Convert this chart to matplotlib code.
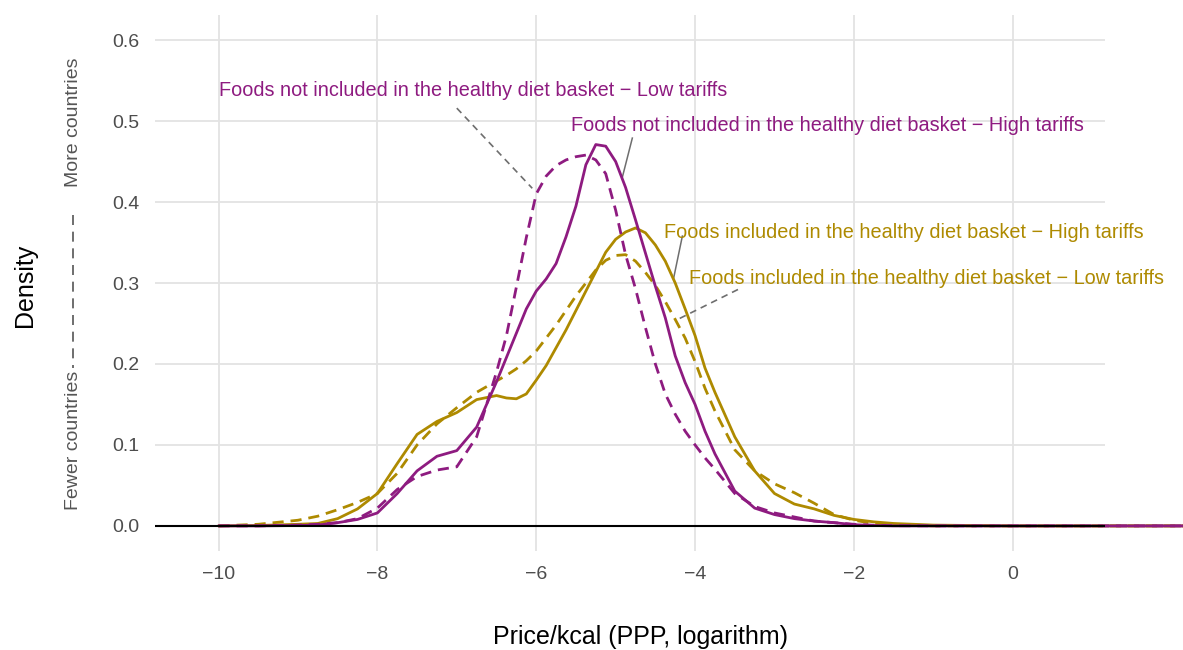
import matplotlib
matplotlib.use("Agg")
import matplotlib.pyplot as plt

plt.rcParams['font.family'] = ['Liberation Sans', 'DejaVu Sans']

# price/kcal grid (log scale) the densities were read at
price = [-10, -9.5, -9, -8.75, -8.5, -8.25, -8, -7.75, -7.5, -7.25, -7, -6.75,
         -6.5, -6.375, -6.25, -6.125, -6, -5.875, -5.75, -5.625, -5.5, -5.375,
         -5.25, -5.125, -5, -4.875, -4.75, -4.625, -4.5, -4.375, -4.25, -4.125,
         -4, -3.875, -3.75, -3.5, -3.25, -3, -2.75, -2.5, -2.25, -2, -1.75,
         -1.5, -1, 0, 1, 2, 2.5]

# foods not in the healthy diet basket, high tariffs (solid purple)
not_incl_high = [0, 0, 0.0005, 0.001, 0.004, 0.008, 0.016, 0.040, 0.068, 0.086,
                 0.093, 0.122, 0.178, 0.208, 0.238, 0.268, 0.290, 0.305, 0.324,
                 0.357, 0.395, 0.446, 0.471, 0.469, 0.450, 0.418, 0.378, 0.337,
                 0.296, 0.257, 0.210, 0.177, 0.150, 0.117, 0.089, 0.043, 0.022,
                 0.014, 0.009, 0.006, 0.004, 0.0015, 0.0005, 0, 0, 0, 0, 0, 0]

# foods not in the healthy diet basket, low tariffs (dashed purple)
not_incl_low = [0, 0, 0.001, 0.002, 0.004, 0.009, 0.022, 0.045, 0.061, 0.069,
                0.073, 0.110, 0.190, 0.235, 0.295, 0.356, 0.410, 0.432, 0.445,
                0.452, 0.456, 0.458, 0.452, 0.435, 0.390, 0.335, 0.293, 0.245,
                0.200, 0.163, 0.138, 0.117, 0.100, 0.084, 0.070, 0.040, 0.024,
                0.016, 0.011, 0.006, 0.004, 0.002, 0.0008, 0.0003, 0, 0, 0, 0, 0]

# foods in the healthy diet basket, high tariffs (solid gold)
incl_high = [0, 0.0005, 0.002, 0.003, 0.009, 0.021, 0.040, 0.077, 0.113, 0.129,
             0.140, 0.156, 0.161, 0.158, 0.157, 0.163, 0.180, 0.198, 0.220,
             0.242, 0.266, 0.290, 0.314, 0.338, 0.354, 0.363, 0.368, 0.362,
             0.347, 0.327, 0.300, 0.268, 0.235, 0.195, 0.165, 0.110, 0.068,
             0.040, 0.027, 0.021, 0.013, 0.008, 0.005, 0.003, 0.001, 0, 0, 0, 0]

# foods in the healthy diet basket, low tariffs (dashed gold)
incl_low = [0, 0.002, 0.007, 0.012, 0.020, 0.029, 0.040, 0.065, 0.100, 0.126,
            0.146, 0.165, 0.179, 0.186, 0.194, 0.204, 0.216, 0.232, 0.248,
            0.266, 0.284, 0.300, 0.316, 0.328, 0.334, 0.335, 0.327, 0.313,
            0.297, 0.277, 0.255, 0.232, 0.203, 0.170, 0.142, 0.094, 0.068,
            0.052, 0.041, 0.028, 0.014, 0.007, 0.003, 0.001, 0, 0, 0, 0, 0]

labels = ["Foods not included in the healthy diet basket \u2212 Low tariffs",
          "Foods not included in the healthy diet basket \u2212 High tariffs",
          "Foods included in the healthy diet basket \u2212 High tariffs",
          "Foods included in the healthy diet basket \u2212 Low tariffs"]

xticks = [-10, -8, -6, -4, -2, 0]
yticks = [0.0, 0.1, 0.2, 0.3, 0.4, 0.5, 0.6]

purple = '#8E1B80'
gold = '#AE8A00'
grey = '#6E6E6E'

fig = plt.figure(figsize=(11.83, 6.5), dpi=100)
ax = fig.add_axes([0.131, 0.1523, 0.803, 0.8246])

ax.set_xlim(-10.8, 1.16)
ax.set_ylim(-0.031, 0.631)

for s in ax.spines.values():
    s.set_visible(False)
ax.set_xticks(xticks)
ax.set_yticks(yticks)
ax.set_xticklabels(['\u2212%d' % -t if t < 0 else '%d' % t for t in xticks])
ax.set_yticklabels(['%.1f' % t for t in yticks])
ax.tick_params(length=0, labelsize=14, colors='#4D4D4D')
ax.tick_params(axis='x', pad=11)
ax.tick_params(axis='y', pad=11)
ax.grid(True, color='#E3E3E3', linewidth=1.3)
ax.set_axisbelow(True)

style = dict(lw=2.0, clip_on=False, solid_joinstyle='round',
             dash_joinstyle='round', solid_capstyle='round')
ax.plot(price, incl_high, color=gold, zorder=3, **style)
ax.plot(price, incl_low, color=gold, ls=(0, (4, 2.5)), zorder=3, **style)
ax.plot(price, not_incl_low, color=purple, ls=(0, (4, 2.5)), zorder=4, **style)
ax.plot(price, not_incl_high, color=purple, zorder=4, **style)
ax.axhline(0, color='black', lw=1.5, zorder=5)

# labels with leader lines
ax.text(-10.0, 0.538, labels[0], color=purple, fontsize=14.3, ha='left', va='center')
ax.plot([-7.0, -6.05], [0.516, 0.417], color=grey, lw=1.2, ls=(0, (4, 3)))
ax.text(-5.567, 0.494, labels[1], color=purple, fontsize=14.3, ha='left', va='center')
ax.plot([-4.79, -4.92], [0.479, 0.429], color=grey, lw=1.1)
ax.text(-4.395, 0.362, labels[2], color=gold, fontsize=14.3, ha='left', va='center')
ax.plot([-4.16, -4.27], [0.358, 0.306], color=grey, lw=1.1)
ax.text(-4.074, 0.306, labels[3], color=gold, fontsize=14.3, ha='left', va='center')
ax.plot([-3.46, -4.24], [0.292, 0.254], color=grey, lw=1.2, ls=(0, (4, 3)))

# axis titles
fig.text(25 / 1183, 1 - 285 / 650, 'Density', rotation=90, fontsize=18,
         ha='center', va='center')
fig.text(73 / 1183, 1 - 122 / 650, 'More countries', rotation=90, fontsize=14,
         color='#555555', ha='center', va='center')
fig.text(73 / 1183, 1 - 440 / 650, 'Fewer countries', rotation=90, fontsize=14,
         color='#555555', ha='center', va='center')
fig.add_artist(plt.Line2D([73 / 1183, 73 / 1183], [1 - 215 / 650, 1 - 368 / 650],
                          color='#555555', lw=1.2, ls=(0, (6, 4))))
fig.text(640 / 1183, 1 - 637 / 650, 'Price/kcal (PPP, logarithm)', fontsize=18,
         ha='center', va='center')

fig.savefig('out.png', dpi=100, facecolor='white')
